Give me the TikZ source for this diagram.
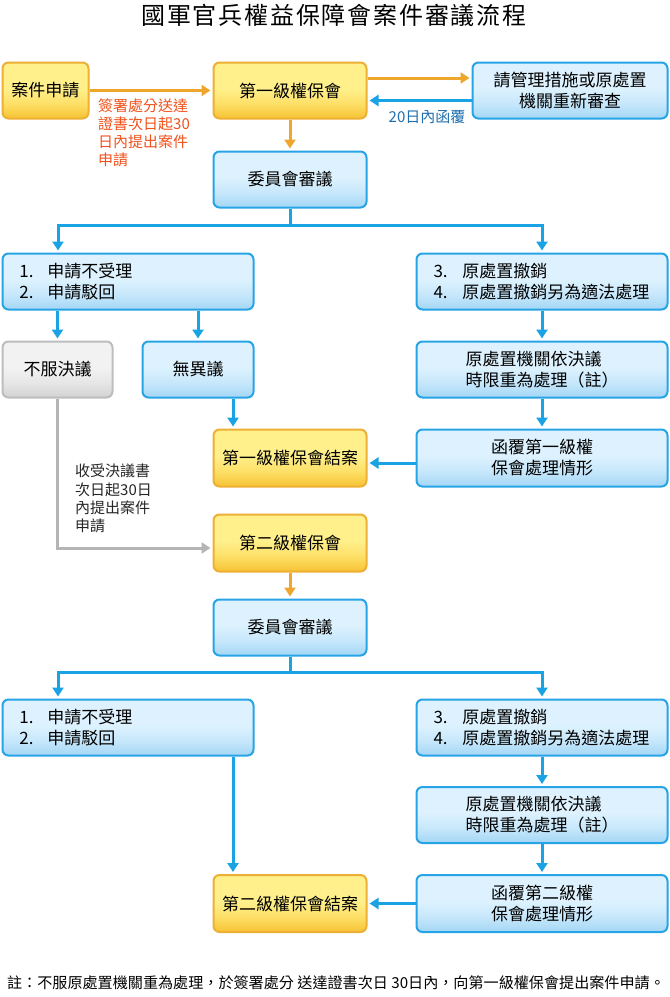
\documentclass[tikz,border=0pt]{standalone}
\usepackage{fontspec}
\newfontfamily\cjk{Noto Sans CJK TC}
\usetikzlibrary{arrows.meta}
\definecolor{ylight}{HTML}{FFF08C}
\definecolor{ymid}{HTML}{FDDF66}
\definecolor{ydark}{HTML}{F7C234}
\definecolor{yborder}{HTML}{EDB035}
\definecolor{blight}{HTML}{DDF2FE}
\definecolor{bmid}{HTML}{C6E7FB}
\definecolor{bdark}{HTML}{A3D6F5}
\definecolor{bborder}{HTML}{27A4E6}
\definecolor{glight}{HTML}{F2F2F2}
\definecolor{gmid}{HTML}{E6E6E6}
\definecolor{gdark}{HTML}{D2D2D2}
\definecolor{gborder}{HTML}{BDBDBD}
\definecolor{ocol}{HTML}{EFA62D}
\definecolor{bcol}{HTML}{1AA3E4}
\definecolor{gcol}{HTML}{B5B5B5}
\definecolor{otext}{HTML}{F0521C}
\definecolor{btext}{HTML}{1F6FAE}
\pgfdeclareverticalshading{yelshade}{100bp}{color(0bp)=(ydark); color(25bp)=(ydark); color(38bp)=(ymid); color(52bp)=(ylight); color(100bp)=(ylight)}
\pgfdeclareverticalshading{blushade}{100bp}{color(0bp)=(bdark); color(25bp)=(bdark); color(38bp)=(bmid); color(52bp)=(blight); color(100bp)=(blight)}
\pgfdeclareverticalshading{grashade}{100bp}{color(0bp)=(gdark); color(25bp)=(gdark); color(38bp)=(gmid); color(52bp)=(glight); color(100bp)=(glight)}
\begin{document}
\begin{tikzpicture}[x=1pt,y=-1pt,
  box/.style={rounded corners=6pt, line width=2pt, inner sep=0pt, align=center,
    font=\cjk\fontsize{17}{21}\selectfont, text=black},
  ybox/.style={box, draw=yborder, shade, shading=yelshade},
  bbox/.style={box, draw=bborder, shade, shading=blushade},
  gbox/.style={box, draw=gborder, shade, shading=grashade},
  mid/.style={minimum width=153pt, minimum height=56pt},
  wide/.style={minimum width=251pt, minimum height=56pt},
  listbox/.style={align=left, text width=217pt},
  tip/.style={-{Triangle[width=11pt,length=9pt]}, shorten >=2pt},
  oarrow/.style={draw=ocol, line width=3pt, tip},
  barrow/.style={draw=bcol, line width=3pt, tip},
  garrow/.style={draw=gcol, line width=3pt, tip},
  lbl/.style={inner sep=0pt, align=left, font=\cjk\fontsize{15}{18}\selectfont}
]
\useasboundingbox (0,0) rectangle (670,997);
\fill[white] (0,0) rectangle (670,997);

\node[inner sep=0pt, font=\cjk\fontsize{24}{28}\selectfont\addfontfeature{LetterSpace=7.5}] (title) at (334,15) {國軍官兵權益保障會案件審議流程};

% row 1
\node[ybox, minimum width=86pt, minimum height=56pt] (a1) at (45.5,90.5) {案件申請};
\node[ybox, mid] (b1) at (290,90.5) {第一級權保會};
\node[bbox, minimum width=195pt, minimum height=56pt] (c1) at (570,90.5) {請管理措施或原處置\\機關重新審查};
\node[bbox, mid] (d1) at (290,179.5) {委員會審議};

\node[bbox, wide, listbox] (e1) at (128,281.5) {\makebox[28pt][l]{1.}申請不受理\\\makebox[28pt][l]{2.}申請駁回};
\node[bbox, wide, listbox] (f1) at (542,281.5) {\makebox[29pt][l]{3.}原處置撤銷\\\makebox[29pt][l]{4.}原處置撤銷另為適法處理};

\node[gbox, minimum width=110pt, minimum height=56pt] (g1) at (57.5,369.5) {不服決議};
\node[bbox, minimum width=111pt, minimum height=56pt] (h1) at (198,369.5) {無異議};
\node[bbox, wide, align=left] (i1) at (542,369.5) {原處置機關依決議\\時限重為處理（註）};

\node[ybox, mid, minimum height=57pt] (j1) at (290,458) {第一級權保會結案};
\node[bbox, wide, minimum height=57pt] (k1) at (542,458) {函覆第一級權\\保會處理情形};

% second level
\node[ybox, mid, minimum height=57pt] (b2) at (290,543) {第二級權保會};
\node[bbox, mid] (d2) at (290,627.5) {委員會審議};
\node[bbox, wide, listbox] (e2) at (128,727.5) {\makebox[28pt][l]{1.}申請不受理\\\makebox[28pt][l]{2.}申請駁回};
\node[bbox, wide, listbox] (f2) at (542,727.5) {\makebox[29pt][l]{3.}原處置撤銷\\\makebox[29pt][l]{4.}原處置撤銷另為適法處理};
\node[bbox, wide, align=left] (i2) at (542,815) {原處置機關依決議\\時限重為處理（註）};
\node[ybox, mid, minimum height=57pt] (j2) at (290,903.5) {第二級權保會結案};
\node[bbox, wide, minimum height=57pt] (k2) at (542,903.5) {函覆第二級權\\保會處理情形};

% labels
\node[lbl, text=otext, anchor=north west] (l1) at (98,99) {簽署處分送達\\證書次日起30\\日內提出案件\\申請};
\node[lbl, text=btext] (l2) at (427,117) {20日內函覆};
\node[lbl, text=black!85, anchor=north west, font=\cjk\fontsize{15}{18.3}\selectfont] (l3) at (75,464) {收受決議書\\次日起30日\\內提出案件\\申請};
\node[inner sep=0pt, font=\cjk\fontsize{15.1}{18}\selectfont] (note) at (336,983) {註：不服原處置機關重為處理，於簽署處分 送達證書次日 30日內，向第一級權保會提出案件申請。};

% connectors level 1
\draw[oarrow] (a1.east) -- (b1.west);
\draw[oarrow] ([yshift=12.5pt]b1.east) -- ([yshift=12.5pt]c1.west);
\draw[barrow] ([yshift=-10pt]c1.west) -- ([yshift=-10pt]b1.east);
\draw[oarrow] (b1.south) -- (d1.north);
\draw[barrow] (d1.south) -- ++(0,17) -| ([xshift=-70pt]e1.north);
\draw[barrow] (d1.south) -- ++(0,17) -| (f1.north);
\draw[barrow] (g1.north |- e1.south) -- (g1.north);
\draw[barrow] (h1.north |- e1.south) -- (h1.north);
\draw[barrow] (f1.south) -- (i1.north);
\draw[barrow] (i1.south) -- (k1.north);
\draw[barrow] ([xshift=35pt]h1.south) -- ([xshift=-57pt]j1.north);
\draw[barrow] ([yshift=-5pt]k1.west) -- ([yshift=-5pt]j1.east);
\draw[garrow] (g1.south) |- ([yshift=-5pt]b2.west);

% connectors level 2
\draw[oarrow] (b2.south) -- (d2.north);
\draw[barrow] (d2.south) -- ++(0,16) -| ([xshift=-70pt]e2.north);
\draw[barrow] (d2.south) -- ++(0,16) -| (f2.north);
\draw[barrow] ([xshift=105pt]e2.south) -- ([xshift=-57pt]j2.north);
\draw[barrow] (f2.south) -- (i2.north);
\draw[barrow] (i2.south) -- (k2.north);
\draw[barrow] (k2.west) -- (j2.east);
\end{tikzpicture}
\end{document}
